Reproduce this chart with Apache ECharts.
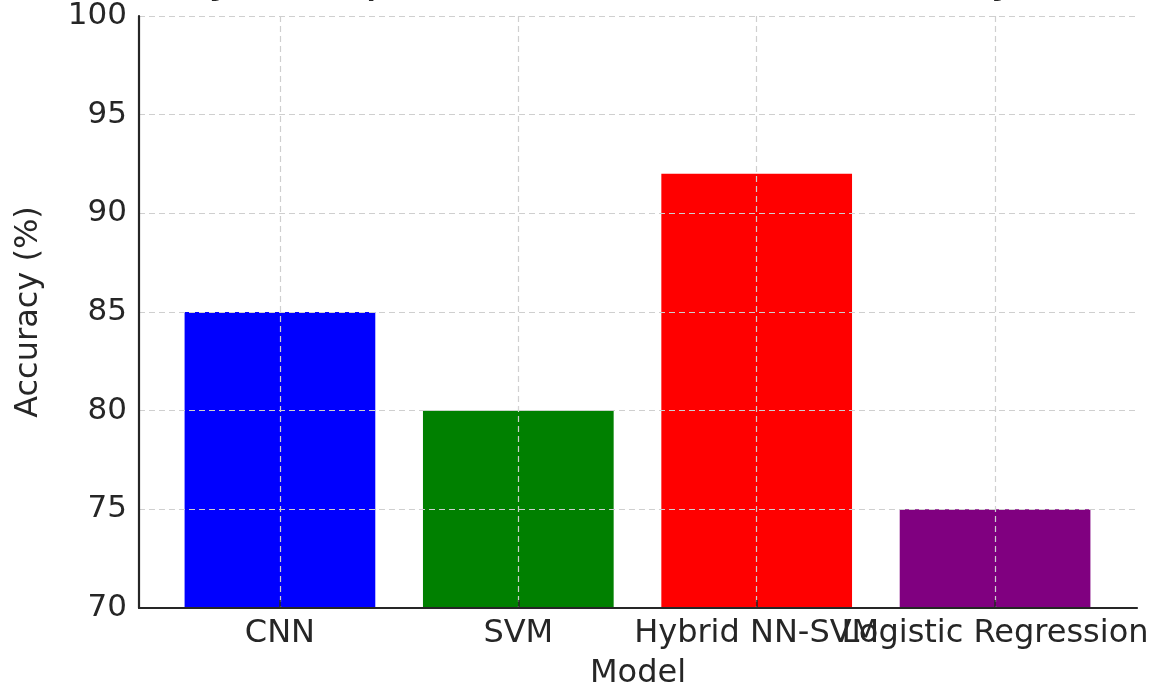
<!DOCTYPE html>
<html>
<head>
<meta charset="utf-8">
<script src="https://cdn.jsdelivr.net/npm/echarts@6/dist/echarts.min.js"></script>
<style>
  html, body { margin: 0; padding: 0; background: #ffffff; }
  #chart { width: 1171px; height: 688px; }
</style>
</head>
<body>
<div id="chart"></div>
<script>
// Model names and their accuracy scores (%)
const models = ['CNN', 'SVM', 'Hybrid NN-SVM', 'Logistic Regression'];
const accuracy = [85, 80, 92, 75];
const barColors = ['#0000ff', '#008000', '#ff0000', '#800080'];

// Accuracy axis range and tick step
const yMin = 70;
const yMax = 100;
const yStep = 5;

const FONT = 'DejaVu Sans';
const TEXT = '#262626';
const GRID_LINE = { color: '#cfcfcf', type: [6, 4], width: 1.2 };

const chart = echarts.init(document.getElementById('chart'), null, { renderer: 'canvas' });

chart.setOption({
  animation: false,
  backgroundColor: '#ffffff',
  title: {
    text: 'Accuracy Comparison of Models for Early Detection',
    left: 638,
    textAlign: 'center',
    top: -51,
    textStyle: { fontFamily: FONT, fontSize: 49, fontWeight: 'normal', color: TEXT }
  },
  grid: [
    // frame: spines, accuracy axis and horizontal grid
    { left: 139, right: 34, top: 16, bottom: 80, containLabel: false, outerBoundsMode: 'none' },
    // bars: one band per model
    { left: 160.75, right: 56.75, top: 16, bottom: 80, containLabel: false, outerBoundsMode: 'none' }
  ],
  xAxis: [
    {
      gridIndex: 0,
      type: 'value',
      min: 0,
      max: 1,
      z: 12,
      name: 'Model',
      nameLocation: 'middle',
      nameGap: 50,
      nameTextStyle: { fontFamily: FONT, fontSize: 32, color: TEXT },
      axisLine: { show: true, lineStyle: { color: TEXT, width: 2.2 } },
      axisTick: { show: false },
      axisLabel: { show: false },
      splitLine: { show: false }
    },
    {
      gridIndex: 1,
      type: 'category',
      data: models,
      z: 10,
      axisLine: { show: false },
      axisTick: { show: true, alignWithLabel: true, inside: true, length: 8, lineStyle: { color: TEXT, width: 1.5 } },
      axisLabel: {
        interval: 0,
        hideOverlap: false,
        margin: 10,
        fontFamily: FONT,
        fontSize: 32,
        color: TEXT
      },
      splitLine: { show: true, alignWithLabel: true, lineStyle: GRID_LINE }
    }
  ],
  yAxis: [
    {
      gridIndex: 0,
      type: 'value',
      min: yMin,
      max: yMax,
      interval: yStep,
      z: 10,
      name: 'Accuracy (%)',
      nameLocation: 'middle',
      nameGap: 94,
      nameTextStyle: { fontFamily: FONT, fontSize: 32, color: TEXT },
      axisLine: { show: true, lineStyle: { color: TEXT, width: 2.2 } },
      axisTick: { show: false },
      axisLabel: { margin: 12, fontFamily: FONT, fontSize: 31, color: TEXT },
      splitLine: { show: true, showMinLine: false, lineStyle: GRID_LINE }
    },
    {
      gridIndex: 1,
      type: 'value',
      min: yMin,
      max: yMax,
      interval: yStep,
      show: false,
      splitLine: { show: false }
    }
  ],
  series: [
    {
      type: 'bar',
      xAxisIndex: 1,
      yAxisIndex: 1,
      barWidth: '80%',
      z: 2,
      data: accuracy.map((v, i) => ({ value: v, itemStyle: { color: barColors[i] } }))
    }
  ]
});
</script>
</body>
</html>
